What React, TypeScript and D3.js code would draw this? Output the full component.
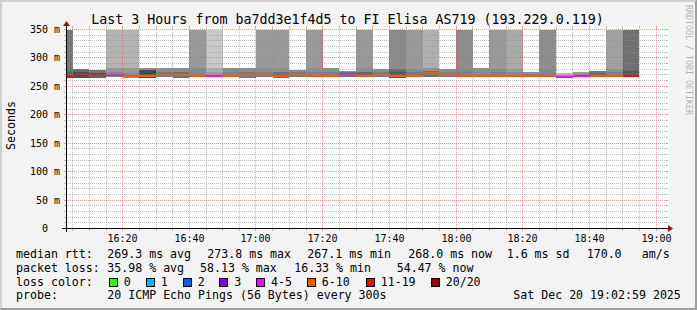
import React from "react";
import * as d3 from "d3";

// ---- data ----
const slotStart = [
  "16:03", "16:05", "16:10", "16:15", "16:20", "16:25", "16:30", "16:35", "16:40", "16:45",
  "16:50", "16:55", "17:00", "17:05", "17:10", "17:15", "17:20", "17:25", "17:30", "17:35",
  "17:40", "17:45", "17:50", "17:55", "18:00", "18:05", "18:10", "18:15", "18:20", "18:25",
  "18:30", "18:35", "18:40", "18:45", "18:50",
];
const slotEndLast = "18:55";

const medianRtt = [
  267.3, 270.9, 270.9, 269.5, 267.7, 267.5, 269.6, 270.0, 268.2, 268.2,
  267.9, 269.6, 269.6, 267.7, 269.6, 267.7, 267.7, 270.9, 267.7, 269.1,
  267.7, 267.7, 273.0, 269.1, 267.7, 267.7, 267.7, 267.5, 267.5, 267.5,
  267.1, 267.5, 267.9, 267.7, 268.0,
];
const lossPings = [
  12, 12, 11, 5, 7, 8, 7, 6, 8, 5,
  7, 6, 9, 8, 6, 9, 7, 4, 9, 6,
  9, 8, 10, 6, 9, 7, 8, 9, 6, 9,
  4, 5, 6, 9, 11,
];
const smokeLow = [
  265.5, 265.5, 265.5, 265.8, 265.5, 265.5, 266.0, 265.5, 265.8, 265.8,
  265.8, 265.5, 266.0, 265.5, 266.0, 265.8, 265.8, 266.5, 265.8, 266.0,
  265.5, 265.8, 265.8, 266.0, 265.8, 265.8, 265.8, 265.8, 265.8, 265.8,
  265.5, 265.8, 265.8, 265.8, 265.8,
];
const smokeInner = [
  276, 276, 274, 274.5, 274, 279, 276, 276, 274, 275,
  276, 276, 276, 275, 275, 276, 276, 275, 276, 275,
  276, 276, 277, 275, 276, 276, 276, 275, 271, 274,
  270.5, 271, 273, 276, 277,
];
const smokeOuter = [
  282, 280.2, 277.9, 282, 282, 282, 282, 282, 282, 282,
  282, 282, 283, 282, 278.4, 282, 282, 277, 282, 280.2,
  281, 280, 282, 280.2, 281, 282, 281, 281, 274.4, 281,
  273.2, 274.4, 276.7, 281, 281,
];
// top of the smoke (values above the chart max are clipped at 350)
const smokeTop = [
  400, 280.2, 277.9, 400, 400, 282, 282, 282, 400, 400,
  282, 282, 400, 400, 278.4, 400, 282, 277, 400, 280.2,
  400, 400, 400, 280.2, 400, 282, 400, 400, 274.4, 400,
  273.2, 274.4, 276.7, 400, 400,
];
const shadeInner = [
  0x60, 0x50, 0x62, 0x88, 0x8a, 0x48, 0x78, 0x70, 0x80, 0x99,
  0x80, 0x78, 0x80, 0x70, 0x7a, 0x80, 0x80, 0x70, 0x66, 0x7a,
  0x5a, 0x77, 0x70, 0x80, 0x80, 0x88, 0x80, 0x88, 0x80, 0x80,
  0x99, 0x88, 0x66, 0x80, 0x5a,
];
const shadeOuter = [
  0x70, 0x6a, 0x75, 0x98, 0x98, 0x8c, 0x8c, 0x8c, 0x8a, 0xb0,
  0x8c, 0x8c, 0x8f, 0x90, 0x8c, 0x90, 0x8c, 0x8c, 0x8c, 0x8c,
  0x6a, 0x8a, 0x90, 0x8c, 0x88, 0x8f, 0x8a, 0x99, 0x8c, 0x88,
  0xbb, 0x99, 0x77, 0x90, 0x68,
];
const shadeTop = [
  0x77, 0, 0, 0xb3, 0xb3, 0, 0, 0, 0x99, 0xc8,
  0, 0, 0x99, 0x99, 0, 0x99, 0, 0, 0x99, 0,
  0x8a, 0x99, 0xb0, 0, 0x8e, 0, 0x99, 0xaa, 0, 0x8e,
  0, 0, 0, 0xa0, 0x70,
];

const yTickValues = [0, 50, 100, 150, 200, 250, 300, 350];
const timeTicks = ["16:20", "16:40", "17:00", "17:20", "17:40", "18:00", "18:20", "18:40", "19:00"];

const lossLabels = ["0", "1", "2", "3", "4-5", "6-10", "11-19", "20/20"];
const lossUpper = [0, 1, 2, 3, 5, 10, 19, 20];
const lossColors = ["#26ff00", "#00b8ff", "#0059ff", "#7e00ff", "#ff00ff", "#ff5500", "#ff0000", "#a10000"];

const titleText = "Last 3 Hours from ba7dd3e1f4d5 to FI Elisa AS719 (193.229.0.119)";
const rttStats = ["median rtt:", "269.3 ms avg", "273.8 ms max", "267.1 ms min", "268.0 ms now", "1.6 ms sd", "170.0", "am/s"];
const lossStats = ["packet loss:", "35.98 % avg", "58.13 % max", "16.33 % min", "54.47 % now"];
const probeText = ["probe:", "20 ICMP Echo Pings (56 Bytes) every 300s", "Sat Dec 20 19:02:59 2025"];

// ---- layout ----
const W = 697;
const H = 310;
const X0 = 66;
const X1 = 666;
const Y0 = 228.5;
const Y1 = 29.5;
const MONO = "'DejaVu Sans Mono', monospace";
const GRID = "rgba(143,143,143,0.56)";
const MGRID = "rgba(224,80,80,0.56)";
const ARROW = "#8a1c1c";

const gray = (g: number) => `rgb(${g},${g},${g})`;
const lossColor = (n: number) => lossColors[lossUpper.findIndex((u) => n <= u)];

export default function App() {
  const parse = d3.timeParse("%H:%M");
  const t0 = parse("16:03") as Date;
  const t1 = parse("19:03") as Date;
  const x = d3.scaleTime().domain([t0, t1]).range([X0, X1]);
  const y = d3.scaleLinear().domain([0, 350]).range([Y0, Y1]);
  const yc = (v: number) => y(Math.min(350, v));

  const starts = slotStart.map((s) => parse(s) as Date);
  const ends = [...starts.slice(1), parse(slotEndLast) as Date];

  const minorY = d3.range(0, 351, 10).filter((v) => v % 50 !== 0);
  const majorT = timeTicks.map((s) => parse(s) as Date);
  const minorT = (d3.timeMinute.every(5) as d3.TimeInterval)
    .range(t0, t1)
    .filter((d) => d.getMinutes() % 20 !== 0);

  const hy = (v: number) => Math.floor(y(v)) + 0.5;
  const vx = (d: Date) => Math.floor(x(d)) + 0.5;
  const cx = (d: Date) => Math.round(x(d));

  const hLine = (v: number, col: string, key: string) => {
    const yy = hy(v);
    return (
      <g key={key}>
        <line x1={X0} x2={X1 + 2} y1={yy} y2={yy} stroke={col} strokeDasharray="1,1" />
        <line x1={X0 - 2} x2={X0} y1={yy} y2={yy} stroke={col} />
        <line x1={X1} x2={X1 + 2} y1={yy} y2={yy} stroke={col} />
      </g>
    );
  };
  const vLine = (d: Date, col: string, key: string) => {
    const xx = vx(d);
    return (
      <g key={key}>
        <line x1={xx} x2={xx} y1={28} y2={228} stroke={col} strokeDasharray="1,1" />
        <line x1={xx} x2={xx} y1={229} y2={231} stroke={col} />
        <line x1={xx} x2={xx} y1={26} y2={28} stroke={col} />
      </g>
    );
  };

  const rttX = [16, 107.3, 207.3, 307.3, 408.3, 506.7, 586.7, 641.7];
  const lossX = [16, 107.3, 200, 294.2, 396.7];
  const swatchX = [108.7, 145.7, 182.7, 219.3, 256, 306.7, 365.7, 430.7];
  const probeX = [16, 107.3, 513.3];

  return (
    <svg width={W} height={H} style={{ display: "block", position: "absolute", left: 0, top: 0 }}>
      <rect x={0} y={0} width={W} height={H} fill="#f3f3f3" />
      {/* 3D border */}
      <line x1={0} x2={W} y1={0.5} y2={0.5} stroke="#cfcfcf" />
      <line x1={0} x2={W} y1={1.5} y2={1.5} stroke="#cfcfcf" />
      <line x1={0.5} x2={0.5} y1={0} y2={H} stroke="#cfcfcf" />
      <line x1={1.5} x2={1.5} y1={0} y2={H} stroke="#cfcfcf" />
      <line x1={0} x2={W} y1={H - 0.5} y2={H - 0.5} stroke="#9e9e9e" />
      <line x1={1} x2={W} y1={H - 1.5} y2={H - 1.5} stroke="#9e9e9e" />
      <line x1={W - 0.5} x2={W - 0.5} y1={0} y2={H} stroke="#9e9e9e" />
      <line x1={W - 1.5} x2={W - 1.5} y1={1} y2={H} stroke="#9e9e9e" />

      {/* canvas */}
      <rect x={X0} y={27} width={X1 + 3 - X0} height={228 - 27} fill="#ffffff" />

      {/* smoke */}
      <g shapeRendering="crispEdges">
        {starts.map((s, i) => {
          const xa = i === 0 ? X0 : cx(s);
          const xb = cx(ends[i]);
          const w = xb - xa;
          const rects = [];
          if (smokeTop[i] > smokeOuter[i]) {
            rects.push(
              <rect key="t" x={xa} width={w} y={yc(smokeTop[i])} height={yc(smokeOuter[i]) - yc(smokeTop[i])} fill={gray(shadeTop[i])} />
            );
          }
          rects.push(
            <rect key="o" x={xa} width={w} y={yc(smokeOuter[i])} height={yc(smokeInner[i]) - yc(smokeOuter[i])} fill={gray(shadeOuter[i])} />
          );
          rects.push(
            <rect key="i" x={xa} width={w} y={yc(smokeInner[i])} height={yc(smokeLow[i]) - yc(smokeInner[i])} fill={gray(shadeInner[i])} />
          );
          return <g key={i}>{rects}</g>;
        })}
        {/* median lines */}
        {starts.map((s, i) => {
          const xa = i === 0 ? X0 : cx(s);
          const xb = cx(ends[i]);
          return (
            <rect key={"m" + i} x={xa} width={xb - xa} y={y(medianRtt[i]) - 1} height={2} fill={lossColor(lossPings[i])} />
          );
        })}
      </g>

      {/* grid */}
      <g shapeRendering="crispEdges">
        {minorY.map((v) => hLine(v, GRID, "hy" + v))}
        {minorT.map((d, i) => vLine(d, GRID, "vt" + i))}
        {yTickValues.filter((v) => v > 0).map((v) => hLine(v, MGRID, "HY" + v))}
        {majorT.map((d, i) => vLine(d, MGRID, "VT" + i))}
      </g>

      {/* axes */}
      <g shapeRendering="crispEdges">
        <line x1={X0 - 4} x2={X1 + 4} y1={228.5} y2={228.5} stroke="#000" />
        <line x1={X0 + 0.5} x2={X0 + 0.5} y1={232} y2={24} stroke="#000" />
      </g>
      <path d={`M${X1 + 2},225 L${X1 + 2},232 L${X1 + 7},228.5 Z`} fill={ARROW} />
      <path d={`M${X0 - 3},26 L${X0 + 4},26 L${X0 + 0.5},21 Z`} fill={ARROW} />

      {/* y labels */}
      <g fontFamily={MONO} fontSize={10} fill="#000">
        {yTickValues.map((v) =>
          v === 0 ? (
            <text key={v} x={48} y={y(v) + 3.5} textAnchor="end">0</text>
          ) : (
            <text key={v} x={60} y={y(v) + 3.5} textAnchor="end">{`${v} m`}</text>
          )
        )}
        {majorT.map((d, i) => (
          <text key={i} x={vx(d)} y={241.5} textAnchor="middle">{timeTicks[i]}</text>
        ))}
      </g>

      {/* axis title */}
      <text x={15} y={125.5} transform="rotate(-90 15 125.5)" textAnchor="middle" fontFamily={MONO} fontSize={11.6}>
        Seconds
      </text>

      {/* title */}
      <text x={347.5} y={24} textAnchor="middle" fontFamily={MONO} fontSize={13.3}>
        {titleText}
      </text>

      {/* watermark */}
      <text x={685.5} y={5} transform="rotate(90 685.5 5)" fontFamily={MONO} fontSize={8.3} fill="#b4b4b4">
        RRDTOOL / TOBI OETIKER
      </text>

      {/* legend */}
      <g fontFamily={MONO} fontSize={11.6} fill="#000" style={{ whiteSpace: "pre" }}>
        {rttStats.map((s, i) => (
          <text key={"r" + i} x={rttX[i]} y={258.3}>{s}</text>
        ))}
        {lossStats.map((s, i) => (
          <text key={"l" + i} x={lossX[i]} y={271.8}>{s}</text>
        ))}
        <text x={16} y={285.6}>loss color:</text>
        {lossLabels.map((s, i) => (
          <g key={"c" + i}>
            <rect x={Math.round(swatchX[i]) + 0.5} y={278.5} width={8} height={8} fill={lossColors[i]} stroke="#000" shapeRendering="crispEdges" />
            <text x={swatchX[i] + 15} y={285.6}>{s}</text>
          </g>
        ))}
        {probeText.map((s, i) => (
          <text key={"p" + i} x={probeX[i]} y={299}>{s}</text>
        ))}
      </g>
    </svg>
  );
}
